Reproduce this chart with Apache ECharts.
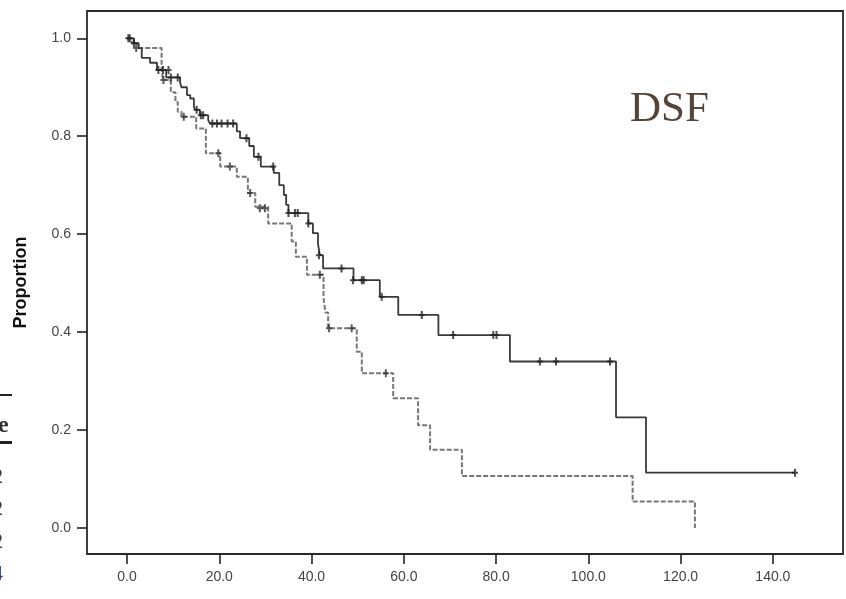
<!DOCTYPE html>
<html>
<head>
<meta charset="utf-8">
<script src="https://cdn.jsdelivr.net/npm/echarts@6/dist/echarts.min.js"></script>
<style>html,body{margin:0;padding:0;background:#fff;}#c{width:846px;height:599px;}</style>
</head>
<body>
<div id="c"></div>
<script>
// Kaplan-Meier step data (time in months, proportion surviving)
var solidTimes = [0, 1.5, 2.5, 3.2, 5.0, 6.5, 8.5, 11.5, 11.8, 13.0, 13.7, 14.5, 14.8, 15.8, 17.6, 18.0, 23.8, 24.5, 26.5, 27.5, 29.0, 31.8, 33.0, 34.0, 34.5, 35.0, 39.3, 40.3, 41.4, 41.8, 42.5, 49.1, 54.8, 58.8, 67.5, 83.0, 106.0, 112.5, 144.8];
var solidSurv  = [1.0, 0.99, 0.98, 0.96, 0.95, 0.935, 0.92, 0.91, 0.90, 0.884, 0.877, 0.86, 0.854, 0.843, 0.833, 0.826, 0.81, 0.796, 0.78, 0.758, 0.738, 0.725, 0.70, 0.68, 0.66, 0.643, 0.622, 0.602, 0.58, 0.557, 0.53, 0.506, 0.472, 0.435, 0.394, 0.340, 0.226, 0.113, 0.113];
var dashedTimes = [0, 1.0, 2.5, 7.5, 7.8, 9.5, 10.5, 11.0, 11.8, 15.0, 17.1, 20.2, 23.8, 26.2, 27.8, 30.6, 35.7, 36.6, 39.0, 42.6, 43.0, 43.6, 49.8, 50.9, 57.7, 63.1, 65.7, 72.6, 109.6, 123.1];
var dashedSurv  = [1.0, 0.99, 0.98, 0.935, 0.915, 0.89, 0.87, 0.85, 0.84, 0.816, 0.765, 0.738, 0.717, 0.684, 0.656, 0.622, 0.585, 0.554, 0.517, 0.47, 0.44, 0.408, 0.36, 0.316, 0.265, 0.21, 0.16, 0.106, 0.054, 0.0];
var solidCensorT = [0.3, 1.5, 6.8, 7.8, 9.0, 9.5, 11.0, 15.1, 16.0, 16.5, 18.5, 19.5, 20.5, 21.8, 23.0, 25.9, 28.5, 31.7, 35.0, 36.4, 37.0, 39.3, 41.6, 46.5, 49.0, 50.9, 51.3, 55.2, 63.9, 70.7, 79.4, 80.1, 89.5, 93.0, 104.7, 144.8];
var solidCensorS = [1.0, 0.99, 0.935, 0.935, 0.935, 0.92, 0.92, 0.854, 0.843, 0.843, 0.826, 0.826, 0.826, 0.826, 0.826, 0.796, 0.758, 0.738, 0.643, 0.643, 0.643, 0.622, 0.557, 0.53, 0.506, 0.506, 0.506, 0.472, 0.435, 0.394, 0.394, 0.394, 0.340, 0.340, 0.340, 0.113];
var dashedCensorT = [0.6, 2.0, 7.9, 12.3, 19.8, 22.3, 26.7, 28.8, 29.9, 41.8, 43.8, 48.7, 56.1];
var dashedCensorS = [1.0, 0.98, 0.915, 0.84, 0.765, 0.738, 0.684, 0.653, 0.653, 0.517, 0.408, 0.408, 0.316];
var xTicks = [0, 20, 40, 60, 80, 100, 120, 140];
var yTicks = [0, 0.2, 0.4, 0.6, 0.8, 1.0];

function zip(a, b) { return a.map(function (v, i) { return [v, b[i]]; }); }

var plusSym = 'path://M0,3H2V0H4V3H6V5H4V8H2V5H0Z';
var chart = echarts.init(document.getElementById('c'), null, {renderer: 'canvas'});
var labelFont = {color: '#444', fontSize: 14, fontFamily: 'Liberation Sans, Arial, sans-serif'};
chart.setOption({
  animation: false,
  backgroundColor: '#fff',
  grid: {left: 87, top: 11, right: 3, bottom: 45, show: true, borderColor: '#2a2a2a', borderWidth: 1.8, backgroundColor: 'transparent'},
  xAxis: {
    type: 'value', min: -8.67, max: 155.2,
    axisLine: {show: false, onZero: false},
    splitLine: {show: false},
    axisTick: {show: true, inside: false, length: 10, customValues: xTicks, lineStyle: {color: '#222', width: 1.6}},
    axisLabel: Object.assign({customValues: xTicks, margin: 16, formatter: function (v) { return v.toFixed(1); }}, labelFont)
  },
  yAxis: {
    type: 'value', min: -0.0531, max: 1.0557,
    name: 'Proportion', nameLocation: 'middle', nameRotate: 90, nameGap: 57,
    nameTextStyle: {fontSize: 18, fontWeight: 'bold', color: '#111', fontFamily: 'Liberation Sans, Arial, sans-serif'},
    axisLine: {show: false, onZero: false},
    splitLine: {show: false},
    axisTick: {show: true, inside: false, length: 10, customValues: yTicks, lineStyle: {color: '#222', width: 1.6}},
    axisLabel: Object.assign({customValues: yTicks, margin: 16, formatter: function (v) { return v.toFixed(1); }}, labelFont)
  },
  series: [
    {type: 'line', step: 'end', data: zip(dashedTimes, dashedSurv), symbol: 'none', lineStyle: {color: '#777', width: 2, type: [5, 2]}, z: 2},
    {type: 'line', step: 'end', data: zip(solidTimes, solidSurv), symbol: 'none', lineStyle: {color: '#3a3a3a', width: 1.8}, z: 3},
    {type: 'scatter', data: zip(dashedCensorT, dashedCensorS), symbol: plusSym, symbolSize: [6, 8], itemStyle: {color: '#333'}, z: 4},
    {type: 'scatter', data: zip(solidCensorT, solidCensorS), symbol: plusSym, symbolSize: [6, 8], itemStyle: {color: '#222'}, z: 4}
  ],
  graphic: [
    {type: 'text', left: 630, top: 88, style: {text: 'DSF', font: '43px "Liberation Serif", "Times New Roman", serif', fill: '#54443c'}},
    {type: 'rect', shape: {x: 0, y: 394, width: 12, height: 2}, style: {fill: '#222'}},
    {type: 'text', x: -2, y: 414, style: {text: 'e', font: 'bold 24px "Liberation Serif", serif', fill: '#333'}},
    {type: 'rect', shape: {x: 0, y: 441, width: 12, height: 3}, style: {fill: '#222'}},
    {type: 'text', x: -7, y: 468, style: {text: '2', font: '20px "Liberation Serif", serif', fill: '#3a3a55'}},
    {type: 'text', x: -7, y: 500, style: {text: '2', font: '20px "Liberation Serif", serif', fill: '#3a3a55'}},
    {type: 'text', x: -7, y: 533, style: {text: '2', font: '20px "Liberation Serif", serif', fill: '#3a3a55'}},
    {type: 'text', x: -7, y: 565, style: {text: '4', font: '20px "Liberation Serif", serif', fill: '#2b3e8c'}}
  ]
});
</script>
</body>
</html>
